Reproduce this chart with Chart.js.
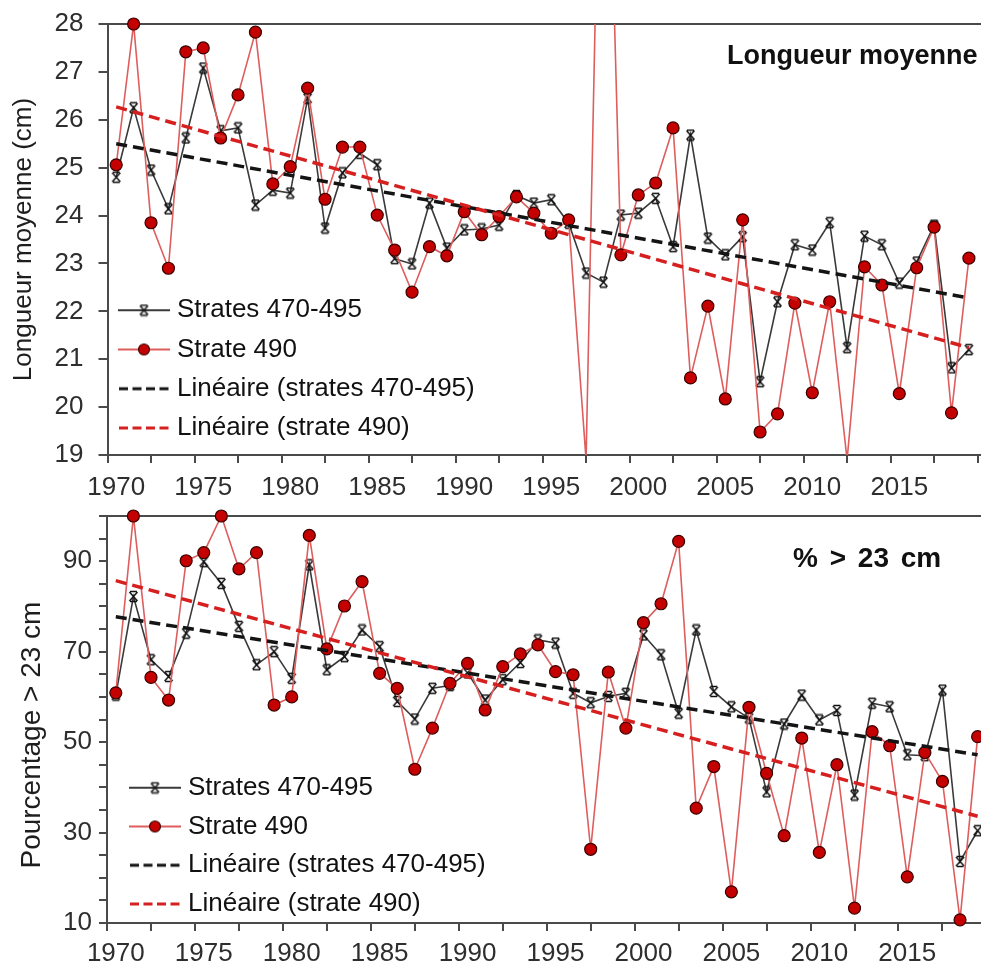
<!DOCTYPE html>
<html><head><meta charset="utf-8">
<script src="https://cdn.jsdelivr.net/npm/chart.js@4"></script>
<style>
html,body{margin:0;padding:0;background:#fff;overflow:hidden;width:981px;height:969px;}
#wrap{position:relative;width:981px;height:969px;overflow:hidden;background:#fff;}
canvas{position:absolute;left:0;}
#c1{top:0}
#c2{top:490px}
.ttl{position:absolute;font-family:'Liberation Sans',Arial,sans-serif;font-weight:bold;color:#111;white-space:nowrap;}
</style></head><body>
<div id="wrap">
<canvas id="c1" width="1000" height="515"></canvas>
<canvas id="c2" width="1000" height="490"></canvas>
<div class="ttl" style="left:727px;top:42px;font-size:27px;line-height:27px">Longueur moyenne</div>
<div class="ttl" style="left:793px;top:544px;font-size:28px;line-height:28px;word-spacing:4px">% &gt; 23 cm</div>
</div>
<script>
// ---------- data ----------
const years = [1970,1971,1972,1973,1974,1975,1976,1977,1978,1979,
               1980,1981,1982,1983,1984,1985,1986,1987,1988,1989,
               1990,1991,1992,1993,1994,1995,1996,1997,1998,1999,
               2000,2001,2002,2003,2004,2005,2006,2007,2008,2009,
               2010,2011,2012,2013,2014,2015,2016,2017,2018,2019];

// Longueur moyenne (cm)
const lengthStrates470_495 = [24.8,26.25,24.95,24.14,25.62,27.08,25.77,25.83,24.22,24.53,
                              24.47,26.45,23.74,24.89,25.3,25.06,23.1,22.99,24.26,23.32,
                              23.7,23.72,23.8,24.42,24.26,24.33,23.84,22.8,22.61,24.01,
                              24.05,24.36,23.35,25.68,23.53,23.18,23.56,20.53,22.2,23.39,
                              23.28,23.85,21.24,23.57,23.39,22.59,23.03,23.8,20.82,21.2];
const lengthStrate490 = [25.06,28.0,23.85,22.9,27.42,27.5,25.62,26.52,27.83,24.66,
                         25.02,26.66,24.34,25.43,25.43,24.01,23.28,22.4,23.35,23.16,
                         24.08,23.6,23.98,24.39,24.05,23.63,23.91,18.9,36.5,23.18,
                         24.43,24.68,25.83,20.61,22.11,20.17,23.91,19.48,19.86,22.17,
                         20.3,22.2,18.9,22.93,22.55,20.28,22.91,23.76,19.88,23.11];

// Pourcentage > 23 cm
const pctStrates470_495 = [60.4,82.2,68.2,64.5,74.1,89.9,85.1,75.6,67.1,70.0,
                           64.1,89.2,66.0,68.9,74.8,71.1,59.0,55.1,61.9,62.5,
                           65.3,59.3,63.8,67.6,72.6,71.9,60.8,58.7,60.1,60.8,
                           73.7,69.3,56.4,74.8,61.2,57.8,55.3,39.0,54.0,60.4,
                           54.9,57.0,38.3,58.6,57.8,47.2,47.0,61.5,23.6,30.4];
const pctStrate490 = [60.9,100,64.3,59.3,90.1,91.9,100,88.3,91.9,58.2,
                      60.0,95.7,70.6,80.1,85.5,65.2,61.9,44.0,53.1,63.0,
                      67.4,57.1,66.7,69.5,71.5,65.6,64.9,26.3,65.5,53.1,
                      76.4,80.6,94.4,35.4,44.6,16.9,57.7,43.1,29.3,50.9,
                      25.6,45.0,13.3,52.3,49.2,20.2,47.7,41.3,10.7,51.2];

// Linear trend lines (end points)
const trendYears = [1970, 2019];
const lengthTrendStrates = [25.5, 22.28];
const lengthTrendStrate490 = [26.27, 21.24];
const pctTrendStrates = [77.7, 47.2];
const pctTrendStrate490 = [85.7, 33.6];

// Axis ticks
const xLabelTicks = [1970,1975,1980,1985,1990,1995,2000,2005,2010,2015];
const xMinorTicks = [1969.5,1972,1974.5,1977,1979.5,1982,1984.5,1987,1989.5,1992,
                     1994.5,1997,1999.5,2002,2004.5,2007,2009.5,2012,2014.5,2017,2019.5];
const lengthYTicks = [19,20,21,22,23,24,25,26,27,28];
const pctYTicks = [10,15,20,25,30,35,40,45,50,55,60,65,70,75,80,85,90,95,100];
const pctYLabels = [10,30,50,70,90];

const seriesNames = ['Strates 470-495', 'Strate 490', 'Linéaire (strates 470-495)', 'Linéaire (strate 490)'];

// ---------- styles ----------
const FONT = "'Liberation Sans', Arial, sans-serif";
const AXIS = '#4a4a4a';
const TICK_TXT = '#2e2e2e';
const BLACK_LINE = '#3a3a3a';
const RED_LINE = '#de5d5d';
const RED_FILL = '#c40000';
const RED_EDGE = '#3a0000';
const BLACK_TREND = '#141414';
const RED_TREND = '#d61f1f';

function makeMarker() {
  const c = document.createElement('canvas');
  c.width = 13; c.height = 13;
  const g = c.getContext('2d');
  g.strokeStyle = '#111'; g.lineWidth = 1.5;
  g.beginPath();
  g.moveTo(2.5, 2); g.lineTo(10.5, 11);
  g.moveTo(10.5, 2); g.lineTo(2.5, 11);
  g.moveTo(3, 1.5); g.lineTo(10, 1.5);
  g.moveTo(3, 11.5); g.lineTo(10, 11.5);
  g.stroke();
  return c;
}
const MARK = makeMarker();

function legendSample(kind) {
  const c = document.createElement('canvas');
  c.width = 52; c.height = 16;
  const g = c.getContext('2d');
  const m = 8;
  g.beginPath();
  if (kind === 0) {
    g.strokeStyle = BLACK_LINE; g.lineWidth = 1.8;
    g.moveTo(0, m); g.lineTo(52, m); g.stroke();
    g.drawImage(MARK, 26 - 6.5, m - 6.5);
  } else if (kind === 1) {
    g.strokeStyle = RED_LINE; g.lineWidth = 1.8;
    g.moveTo(0, m); g.lineTo(52, m); g.stroke();
    g.beginPath(); g.arc(26, m, 5.5, 0, Math.PI * 2);
    g.fillStyle = RED_FILL; g.fill();
    g.strokeStyle = RED_EDGE; g.lineWidth = 1.2; g.stroke();
  } else {
    g.strokeStyle = kind === 2 ? BLACK_TREND : RED_TREND;
    g.lineWidth = 3.2; g.setLineDash([9, 4.5]);
    g.moveTo(1, m); g.lineTo(52, m); g.stroke();
  }
  return c;
}
const LEGEND_IMGS = [0, 1, 2, 3].map(legendSample);

const toPoints = (xs, ys) => xs.map((x, i) => ({x: x, y: ys[i]}));

const legendPlace = {
  id: 'legendPlace',
  afterLayout(chart, args, opts) {
    const lg = chart.legend;
    if (!lg) return;
    const pad = chart.options.plugins.legend.labels.padding;
    lg.left = opts.x - pad;
    lg.bottom = chart.chartArea.bottom + opts.dy;
    lg.top = lg.bottom - lg.height;
  }
};

function buildChart(id, o) {
  const inRange = v => v >= o.yMin && v <= o.yMax;
  return new Chart(document.getElementById(id), {
    type: 'line',
    data: {
      datasets: [
        {label: seriesNames[0], data: toPoints(years, o.black), borderColor: BLACK_LINE, borderWidth: 1.6,
         pointStyle: MARK, pointRadius: 6, tension: 0, order: 5},
        {label: seriesNames[1], data: toPoints(years, o.red), borderColor: RED_LINE, borderWidth: 1.6,
         pointRadius: 0, tension: 0, order: 4},
        {label: seriesNames[1] + ' (points)', data: toPoints(years, o.red), showLine: false,
         pointRadius: ctx => (ctx.raw && inRange(ctx.raw.y)) ? 6 : 0,
         pointBackgroundColor: RED_FILL, pointBorderColor: RED_EDGE, pointBorderWidth: 1.2,
         order: 3, clip: {left: 0, top: 12, right: 0, bottom: 12}},
        {label: seriesNames[2], data: toPoints(trendYears, o.blackTrend), borderColor: BLACK_TREND,
         borderWidth: 3.5, borderDash: [11, 6], pointRadius: 0, order: 2},
        {label: seriesNames[3], data: toPoints(trendYears, o.redTrend), borderColor: RED_TREND,
         borderWidth: 3.5, borderDash: [11, 6], pointRadius: 0, order: 1}
      ]
    },
    options: {
      responsive: false, animation: false, devicePixelRatio: 1, events: [],
      layout: {padding: o.layoutPad},
      plugins: {
        tooltip: {enabled: false},
        title: {display: false},
        legend: {
          display: true, position: 'chartArea', align: 'end', fullSize: false,
          labels: {
            usePointStyle: true, pointStyleWidth: 40, padding: o.legendPad,
            font: {family: FONT, size: 26}, color: '#111',
            generateLabels: () => seriesNames.map((t, i) => ({
              text: t, pointStyle: LEGEND_IMGS[i], datasetIndex: i, hidden: false,
              lineWidth: 0, fillStyle: 'rgba(0,0,0,0)', strokeStyle: 'rgba(0,0,0,0)', fontColor: '#111'
            }))
          }
        },
        legendPlace: {x: o.legendX, dy: o.legendDy}
      },
      scales: {
        x: {
          type: 'linear', position: 'bottom', weight: 1, min: 1969.5, max: o.xMax,
          afterBuildTicks: s => { s.ticks = xLabelTicks.map(v => ({value: v})); },
          ticks: {font: {family: FONT, size: 26}, color: TICK_TXT, padding: o.xLabelPad,
                  maxRotation: 0, autoSkip: false, callback: v => String(v)},
          grid: {display: false, drawTicks: false},
          border: {display: false}
        },
        xMinor: {
          type: 'linear', position: 'bottom', weight: 0, min: 1969.5, max: o.xMax,
          afterBuildTicks: s => { s.ticks = xMinorTicks.map(v => ({value: v})); },
          ticks: {display: false},
          grid: {display: true, drawOnChartArea: false, drawTicks: true, tickLength: 8, color: AXIS, lineWidth: 2},
          border: {display: true, color: AXIS, width: 2}
        },
        xTop: {
          type: 'linear', position: 'top', min: 1969.5, max: o.xMax,
          ticks: {display: false},
          grid: {display: false, drawTicks: false},
          border: {display: true, color: AXIS, width: 2}
        },
        y: {
          type: 'linear', position: 'left', min: o.yMin, max: o.yMax,
          afterBuildTicks: s => { s.ticks = o.yTicks.map(v => ({value: v})); },
          afterFit: s => { s.paddingTop = 0; s.paddingBottom = 0; },
          ticks: {font: {family: FONT, size: 26}, color: TICK_TXT, padding: o.yLabelPad, autoSkip: false,
                  callback: v => o.yLabels.includes(v) ? String(v) : ''},
          grid: {display: true, drawOnChartArea: false, drawTicks: true, tickLength: o.yTickLen, color: AXIS, lineWidth: 2},
          border: {display: true, color: AXIS, width: 2},
          title: {display: true, text: o.yTitle, font: {family: FONT, size: o.yTitleSize}, color: '#1e1e1e',
                  padding: {top: 0, bottom: o.yTitleGap}}
        }
      }
    },
    plugins: [legendPlace]
  });
}

buildChart('c1', {
  black: lengthStrates470_495, red: lengthStrate490,
  blackTrend: lengthTrendStrates, redTrend: lengthTrendStrate490,
  yMin: 19, yMax: 28, yTicks: lengthYTicks, yLabels: lengthYTicks,
  yTitle: 'Longueur moyenne (cm)', yTitleSize: 26, yTitleGap: 0, yLabelPad: 15, yTickLen: 9,
  xMax: 2020.35, xLabelPad: 9.4,
  layoutPad: {left: 8.4, top: 24, right: 0, bottom: 2},
  legendPad: 13.25, legendX: 124, legendDy: -0.75
});
buildChart('c2', {
  black: pctStrates470_495, red: pctStrate490,
  blackTrend: pctTrendStrates, redTrend: pctTrendStrate490,
  yMin: 10, yMax: 100, yTicks: pctYTicks, yLabels: pctYLabels,
  yTitle: 'Pourcentage > 23 cm    ', yTitleSize: 28, yTitleGap: 7.3, yLabelPad: 7, yTickLen: 8,
  xMax: 2019.84, xLabelPad: 7.4,
  layoutPad: {left: 15.2, top: 26, right: 0, bottom: 3},
  legendPad: 12.75, legendX: 135, legendDy: 6.75
});
</script>
</body></html>
